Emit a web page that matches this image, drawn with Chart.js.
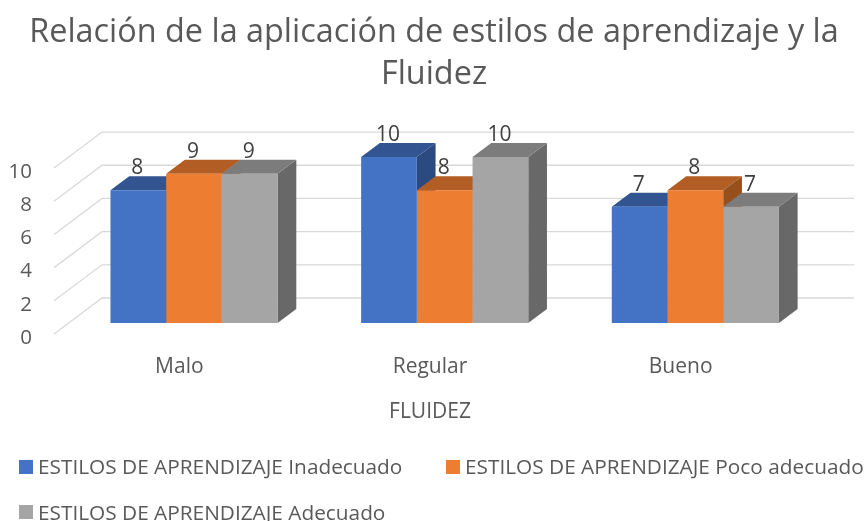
<!DOCTYPE html>
<html><head><meta charset="utf-8">
<style>html,body{margin:0;padding:0;background:#fff}#w{width:865px;height:521px}</style>
<script src="https://cdn.jsdelivr.net/npm/chart.js@4"></script>
</head><body><div id="w"><canvas id="c" width="865" height="521"></canvas></div>
<script>
const categories = ["Malo", "Regular", "Bueno"];
const inadecuado = [8, 10, 7];
const pocoAdecuado = [9, 8, 8];
const adecuado = [9, 10, 7];
const seriesNames = ["ESTILOS DE APRENDIZAJE Inadecuado", "ESTILOS DE APRENDIZAJE Poco adecuado", "ESTILOS DE APRENDIZAJE Adecuado"];
const titleLines = ["Relación de la aplicación de estilos de aprendizaje y la", "Fluidez"];
const xTitle = "FLUIDEZ";
const FONT = "'Open Sans'";
const frontColors = ["#4472C4", "#ED7D31", "#A5A5A5"];
const topColors = ["#325490", "#B15D24", "#7C7C7C"];
const sideColors = ["#2B4A80", "#96501E", "#686868"];
const BAR_DX = 18.7, BAR_DY = 14;
const WALL_DX = 33.3, WALL_DY = 25, FLOOR_DX = 14.7, FLOOR_DY = 11, WALL_RIGHT = 854;

function poly(ctx, pts, color) {
  ctx.fillStyle = color; ctx.beginPath();
  pts.forEach((p, i) => i ? ctx.lineTo(p[0], p[1]) : ctx.moveTo(p[0], p[1]));
  ctx.closePath(); ctx.fill();
}
const plugin3d = {
  id: "plugin3d",
  beforeDatasetsDraw(chart) {
    const ctx = chart.ctx, y = chart.scales.y, x = chart.scales.x;
    ctx.save();
    ctx.strokeStyle = "#D9D9D9"; ctx.lineWidth = 1.3;
    y.ticks.forEach(t => {
      const py = y.getPixelForValue(t.value);
      ctx.beginPath();
      ctx.moveTo(x.left - FLOOR_DX, py + FLOOR_DY);
      ctx.lineTo(x.left + WALL_DX, py - WALL_DY);
      ctx.lineTo(WALL_RIGHT, py - WALL_DY);
      ctx.stroke();
    });
    chart.data.datasets.forEach((ds, i) => {
      chart.getDatasetMeta(i).data.forEach(b => {
        const l = b.x - b.width / 2, r = b.x + b.width / 2, t = b.y, bt = b.base;
        poly(ctx, [[r, t], [r + BAR_DX, t - BAR_DY], [r + BAR_DX, bt - BAR_DY], [r, bt]], sideColors[i]);
        poly(ctx, [[l, t], [r, t], [r + BAR_DX, t - BAR_DY], [l + BAR_DX, t - BAR_DY]], topColors[i]);
      });
    });
    ctx.restore();
  },
  afterDatasetsDraw(chart) {
    const ctx = chart.ctx;
    ctx.save();
    ctx.fillStyle = "#404040"; ctx.font = "21px " + FONT;
    ctx.textAlign = "center"; ctx.textBaseline = "middle";
    chart.data.datasets.forEach((ds, i) => {
      chart.getDatasetMeta(i).data.forEach((b, j) => ctx.fillText(String(ds.data[j]), b.x - 1, b.y - 22));
    });
    ctx.restore();
  },
  afterDraw(chart) {
    const ctx = chart.ctx;
    ctx.save();
    ctx.textBaseline = "middle"; ctx.fillStyle = "#595959";
    ctx.font = "21px " + FONT; ctx.textAlign = "center";
    ctx.fillText(xTitle, 430, 412);
    ctx.textAlign = "left"; ctx.font = "20.8px " + FONT;
    const pos = [[19, 467], [446, 467], [19, 512]];
    seriesNames.forEach((n, i) => {
      ctx.fillStyle = frontColors[i];
      ctx.fillRect(pos[i][0], pos[i][1] - 7, 14, 14);
      ctx.fillStyle = "#595959";
      ctx.fillText(n, pos[i][0] + 19, pos[i][1] + (i === 2 ? 2 : 1));
    });
    ctx.restore();
  }
};
new Chart(document.getElementById("c"), {
  type: "bar",
  data: {
    labels: categories,
    datasets: [inadecuado, pocoAdecuado, adecuado].map((d, i) => ({
      label: seriesNames[i], data: d, backgroundColor: frontColors[i],
      categoryPercentage: 0.6667, barPercentage: 1, borderWidth: 0
    }))
  },
  options: {
    responsive: false, animation: false, events: [],
    layout: { padding: { left: 3, right: 0, top: 0, bottom: 0 } },
    plugins: {
      legend: { display: false }, tooltip: { enabled: false },
      title: { display: true, text: titleLines, color: "#595959",
        font: { family: FONT, size: 32.4, weight: "normal", lineHeight: 1.3 },
        padding: { top: 11.5, bottom: 61.3 } }
    },
    scales: {
      x: { grid: { display: false, drawTicks: false }, border: { display: false },
        afterFit(s) { s.height = 198; },
        ticks: { color: "#595959", font: { family: FONT, size: 21 }, padding: 31, labelOffset: -FLOOR_DX, maxRotation: 0 } },
      y: { min: 0, max: 10, grid: { display: false, drawTicks: false }, border: { display: false },
        afterFit(s) { s.width = 65.7; },
        ticks: { stepSize: 2, color: "#595959", font: { family: FONT, size: 20.5 }, padding: 36.7, labelOffset: FLOOR_DY + 4 } },
      yRight: { position: "right", min: 0, max: 10, grid: { display: false, drawTicks: false }, border: { display: false },
        afterFit(s) { s.width = 44.3; }, ticks: { display: false } }
    }
  },
  plugins: [plugin3d]
});
</script></body></html>
